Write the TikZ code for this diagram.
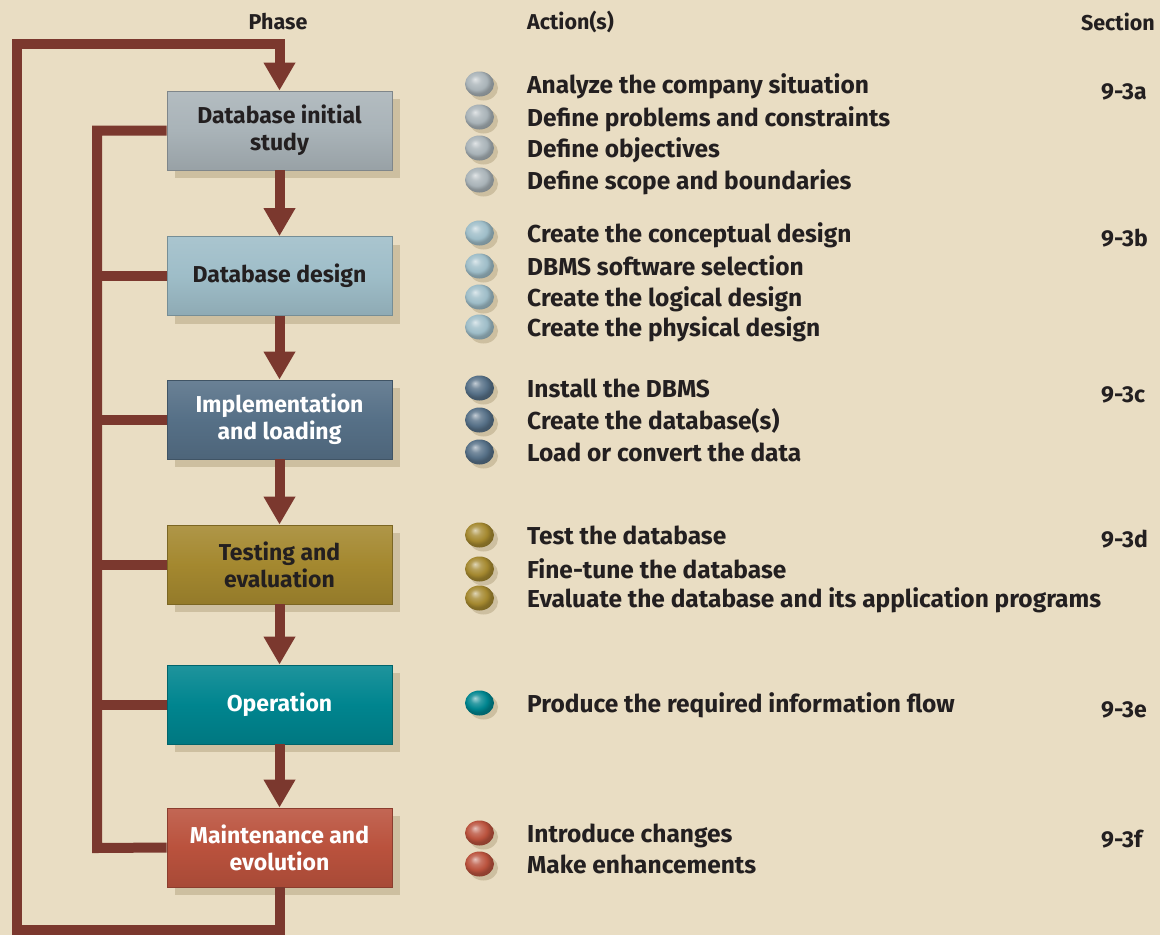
\documentclass[tikz,border=0pt]{standalone}
\usepackage{fontspec}
\setmainfont{Fira Sans}
\usetikzlibrary{arrows.meta,shadows,shapes.geometric}
\definecolor{bg}{HTML}{E9DDC3}
\definecolor{brn}{HTML}{7B382E}
\definecolor{ink}{HTML}{231F20}
\definecolor{shd}{HTML}{CDBFA0}
\definecolor{cA}{HTML}{A9B3B8}
\definecolor{cB}{HTML}{9EBDC8}
\definecolor{cC}{HTML}{567087}
\definecolor{cD}{HTML}{A4882F}
\definecolor{cE}{HTML}{00858F}
\definecolor{cF}{HTML}{BA523D}
\colorlet{bulc}{cA}
\pgfdeclareradialshading[bulc]{myball}{\pgfpoint{-8bp}{10bp}}{%
  color(0bp)=(bulc!35!white); color(9bp)=(bulc!80!white); color(18bp)=(bulc);
  color(24bp)=(bulc!80!black); color(50bp)=(bulc!55!black)}
\begin{document}
\begin{tikzpicture}[x=1pt,y=-1pt,
  phase/.style={minimum width=225pt, minimum height=79pt, inner sep=0pt, align=center,
    font=\bfseries\fontsize{23}{27}\selectfont,
    top color=#1!88!white, bottom color=#1!90!black, middle color=#1,
    draw=#1!75!black, line width=0.8pt,
    general shadow={shadow xshift=8pt, shadow yshift=-8pt, fill=shd}},
  conn/.style={draw=brn, line width=10pt},
  flow/.style={conn, -{Triangle[width=30pt,length=28pt]}},
  head/.style={font=\bfseries\fontsize{21.5}{24}\selectfont, text=ink, inner sep=0pt},
  act/.style={anchor=base west, font=\bfseries\fontsize{24.5}{28}\selectfont, text=ink, inner sep=0pt},
  sec/.style={anchor=base west, font=\bfseries\fontsize{23}{26}\selectfont, text=ink, inner sep=0pt},
  bul/.style={ellipse, minimum width=29pt, minimum height=25pt, inner sep=0pt,
    /utils/exec={\colorlet{bulc}{#1}}, shading=myball,
    general shadow={shadow xshift=4pt, shadow yshift=-4pt, fill=shd}}
]
\fill[bg] (0,0) rectangle (1160,935);
\useasboundingbox (0,0) rectangle (1160,935);

% headers
\node[head] (hp) at (278,22) {Phase};
\node[head, anchor=west] (ha) at (527,22) {Action(s)};
\node[head, anchor=east] (hs) at (1155,22) {Section};

% phase boxes
\node[phase=cA, text=ink] (b1) at (279.5,130.5) {Database initial\\study};
\node[phase=cB, text=ink] (b2) at (279.5,276) {Database design};
\node[phase=cC, text=white] (b3) at (279.5,419.5) {Implementation\\and loading};
\node[phase=cD, text=ink] (b4) at (279.5,564.5) {Testing and\\evaluation};
\node[phase=cE, text=white] (b5) at (279.5,704.5) {Operation};
\node[phase=cF, text=white] (b6) at (279.5,847.5) {Maintenance and\\evolution};

% loop coordinates
\coordinate (obl) at (17,930);
\coordinate (otl) at (17,44);
\coordinate (ib) at (97,848);

% connectors
\draw[flow] (b1.south) -- (b2.north);
\draw[flow] (b2.south) -- (b3.north);
\draw[flow] (b3.south) -- (b4.north);
\draw[flow] (b4.south) -- (b5.north);
\draw[flow] (b5.south) -- (b6.north);
\draw[flow] (b6.south) |- (obl) -- (otl) -| (b1.north);
\draw[conn] (b1.west) -| (ib) -- (b6.west);
\draw[conn] (b2.west) -- (b2.west -| ib);
\draw[conn] (b3.west) -- (b3.west -| ib);
\draw[conn] (b4.west) -- (b4.west -| ib);
\draw[conn] (b5.west) -- (b5.west -| ib);

% bullets and actions
\foreach \y/\t [count=\i] in {84/Analyze the company situation,117/Define problems and constraints,148/Define objectives,180/Define scope and boundaries}{
  \node[bul=cA] (pa\i) at (479.5,\y) {};
  \node[act] (aa\i) at (527,\y+9) {\t};
}
\foreach \y/\t [count=\i] in {233/Create the conceptual design,266/DBMS software selection,297/Create the logical design,327/Create the physical design}{
  \node[bul=cB] (pb\i) at (479.5,\y) {};
  \node[act] (ab\i) at (527,\y+9) {\t};
}
\foreach \y/\t [count=\i] in {388/Install the DBMS,420/Create the database(s),452/Load or convert the data}{
  \node[bul=cC] (pc\i) at (479.5,\y) {};
  \node[act] (ac\i) at (527,\y+9) {\t};
}
\foreach \y/\t [count=\i] in {535/Test the database,569/Fine-tune the database,598/Evaluate the database and its application programs}{
  \node[bul=cD] (pd\i) at (479.5,\y) {};
  \node[act] (ad\i) at (527,\y+9) {\t};
}
\node[bul=cE] (pe1) at (479.5,703) {};
\node[act] (ae1) at (527,712) {Produce the required information flow};
\foreach \y/\t [count=\i] in {833/Introduce changes,864/Make enhancements}{
  \node[bul=cF] (pf\i) at (479.5,\y) {};
  \node[act] (af\i) at (527,\y+9) {\t};
}

% sections
\node[sec] (s1) at (1101,99) {9-3a};
\node[sec] (s2) at (1101,246) {9-3b};
\node[sec] (s3) at (1101,402) {9-3c};
\node[sec] (s4) at (1101,547) {9-3d};
\node[sec] (s5) at (1101,717) {9-3e};
\node[sec] (s6) at (1101,847) {9-3f};
\end{tikzpicture}
\end{document}
